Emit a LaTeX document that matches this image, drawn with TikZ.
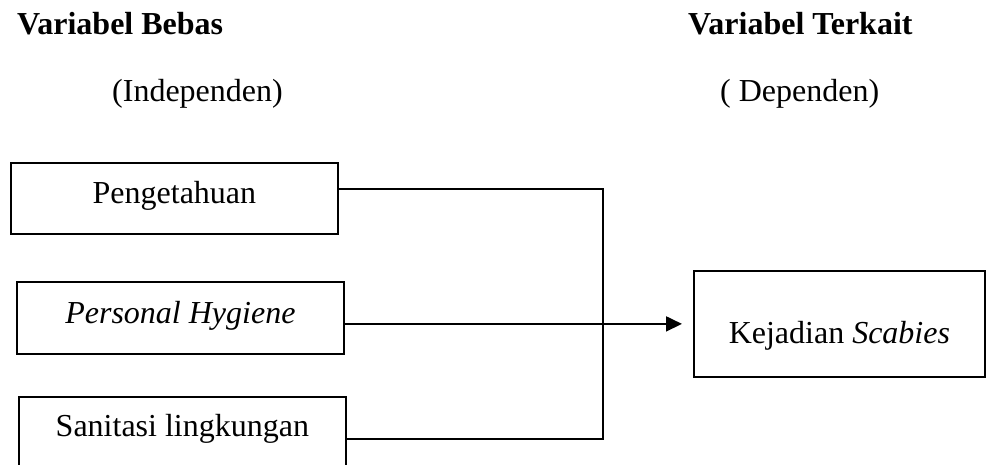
\documentclass[tikz,border=0pt]{standalone}
\usepackage{fontspec}
\setmainfont{Liberation Serif}
\usetikzlibrary{arrows.meta}
\begin{document}
\begin{tikzpicture}[x=1pt,y=-1pt,
  every node/.style={font=\fontsize{32}{38}\selectfont},
  boxnode/.style={draw,line width=1.8pt,inner sep=0pt},
  head/.style={anchor=base west,inner sep=0pt},
  conn/.style={line width=1.8pt}]
\useasboundingbox (0,0) rectangle (987,465);
\clip (0,0) rectangle (987,465);
\node[head,font=\fontsize{32}{38}\selectfont\bfseries] (hb) at (17,35) {Variabel Bebas};
\node[head] (hi) at (112,102) {(Independen)};
\node[head,font=\fontsize{32}{38}\selectfont\bfseries] (ht) at (688,35) {Variabel Terkait};
\node[head] (hd) at (720,102) {( Dependen)};
\node[boxnode,minimum width=327pt,text height=41pt,text depth=30pt,anchor=north west] (b1) at (10,162) {Pengetahuan};
\node[boxnode,minimum width=327pt,text height=42pt,text depth=30pt,anchor=north west] (b2) at (16,281) {\itshape Personal Hygiene};
\node[boxnode,minimum width=327pt,text height=40pt,text depth=60pt,anchor=north west] (b3) at (18,396) {Sanitasi lingkungan};
\node[boxnode,minimum width=291pt,text height=73pt,text depth=33pt,anchor=north west] (b4) at (693,270) {Kejadian \textit{Scabies}};
\coordinate (j1) at (603,189);
\coordinate (j3) at (603,439);
\draw[conn] (b1.east |- j1) -- (j1) -- (j3) -- (b3.east |- j3);
\draw[conn,-{Triangle[length=16pt,width=15pt]},shorten >=11pt] (b2.east |- b4.west) -- (b4.west);
\end{tikzpicture}
\end{document}
